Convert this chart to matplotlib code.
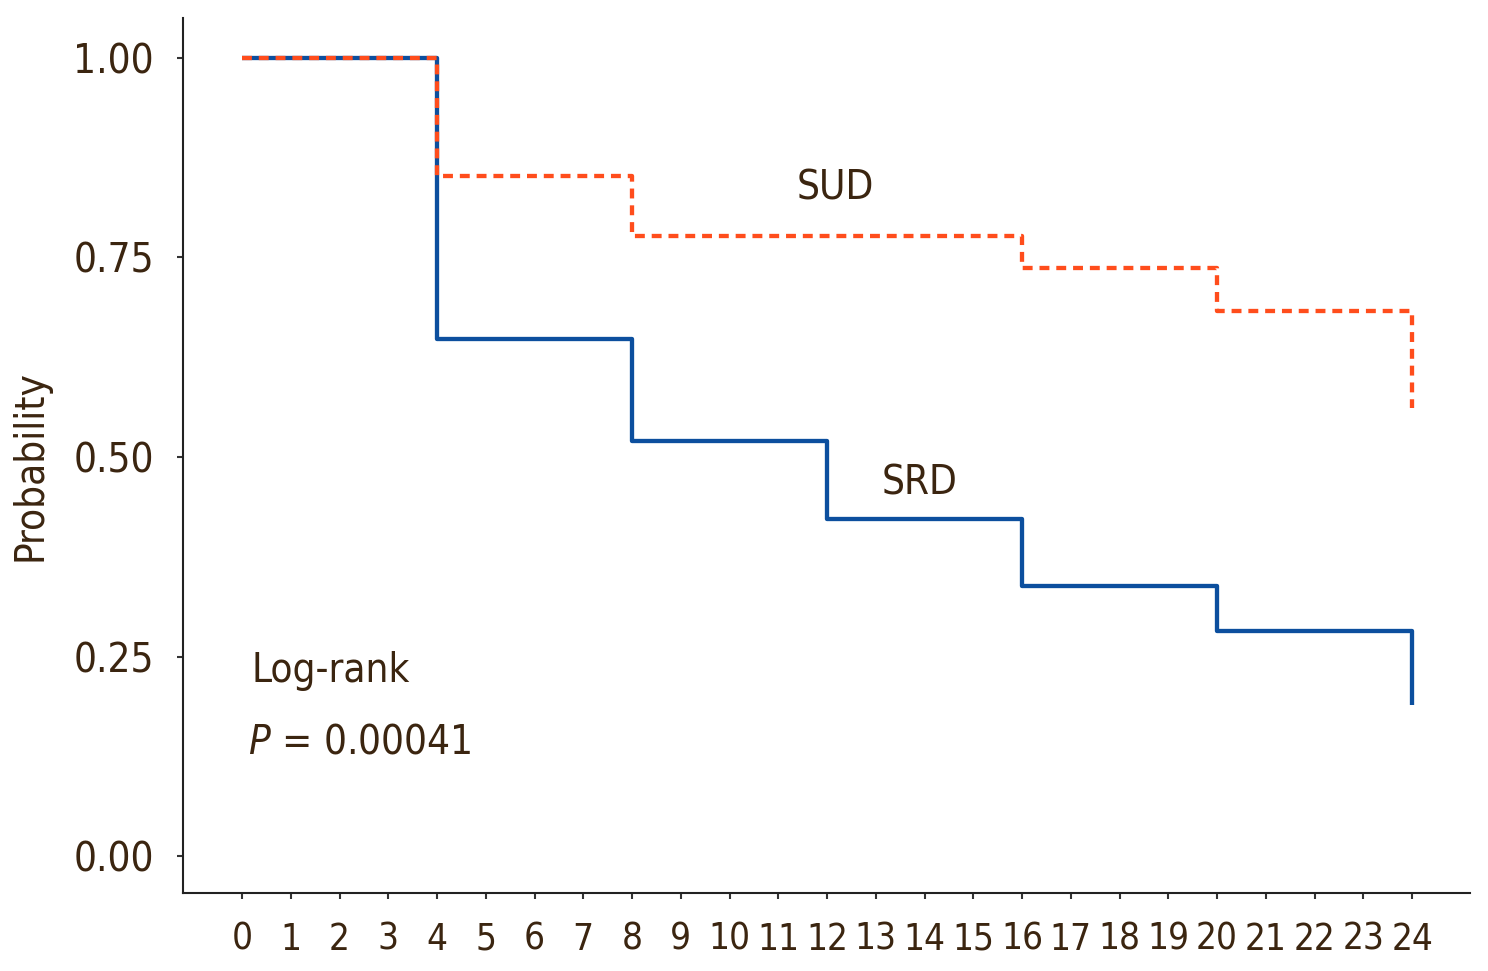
import matplotlib
matplotlib.use("Agg")
import matplotlib.pyplot as plt

# follow-up months and survival probabilities
months = list(range(0, 25))
srd_times = [0, 4, 8, 12, 16, 20, 24]
srd_surv = [1.0, 0.648, 0.520, 0.422, 0.338, 0.282, 0.189]
sud_times = [0, 4, 8, 16, 20, 24]
sud_surv = [1.0, 0.852, 0.777, 0.737, 0.683, 0.561]
y_ticks = [0.0, 0.25, 0.50, 0.75, 1.00]
y_tick_labels = ["0.00", "0.25", "0.50", "0.75", "1.00"]

txt = "#3b2510"
blue = "#0c4f9e"
orange = "#ff4d1c"
fs = 29

plt.rcParams["font.family"] = ["DejaVu Sans"]
plt.rcParams["font.stretch"] = "condensed"
plt.rcParams["mathtext.fontset"] = "dejavusans"

fig = plt.figure(figsize=(14.88, 9.71), dpi=100)
ax = fig.add_axes([0.123, 0.0803, 0.865, 0.9012])

ax.plot(srd_times, srd_surv, drawstyle="steps-post", color=blue, lw=3.1,
        solid_capstyle="butt")
ax.plot(sud_times, sud_surv, drawstyle="steps-post", color=orange, lw=3.1,
        dashes=(2.3, 1.6), dash_capstyle="butt")

ax.set_xlim(-1.21, 25.19)
ax.set_ylim(-0.046, 1.05)
ax.set_xticks(months)
ax.set_xticklabels([str(m) for m in months])
ax.set_yticks(y_ticks)
ax.set_yticklabels(y_tick_labels)

for s in ["top", "right"]:
    ax.spines[s].set_visible(False)
for s in ["left", "bottom"]:
    ax.spines[s].set_linewidth(1.5)
    ax.spines[s].set_color("#222222")

ax.tick_params(axis="both", direction="out", length=4, width=1.5, color="#333333",
               labelcolor=txt, labelsize=fs)
ax.tick_params(axis="x", pad=16, labelsize=26.5)
ax.tick_params(axis="y", pad=17)

ax.set_ylabel("Probability", fontsize=fs, color=txt)
ax.yaxis.set_label_coords(-0.103, 0.489)

ax.text(12.16, 0.837, "SUD", fontsize=fs, color=txt, ha="center", va="center")
ax.text(13.9, 0.467, "SRD", fontsize=fs, color=txt, ha="center", va="center")
ax.text(0.2, 0.232, "Log-rank", fontsize=fs, color=txt, ha="left", va="center")
ax.text(0.12, 0.143, r"$P$ = 0.00041", fontsize=fs, color=txt, ha="left", va="center")

fig.savefig("out.png", dpi=100)
